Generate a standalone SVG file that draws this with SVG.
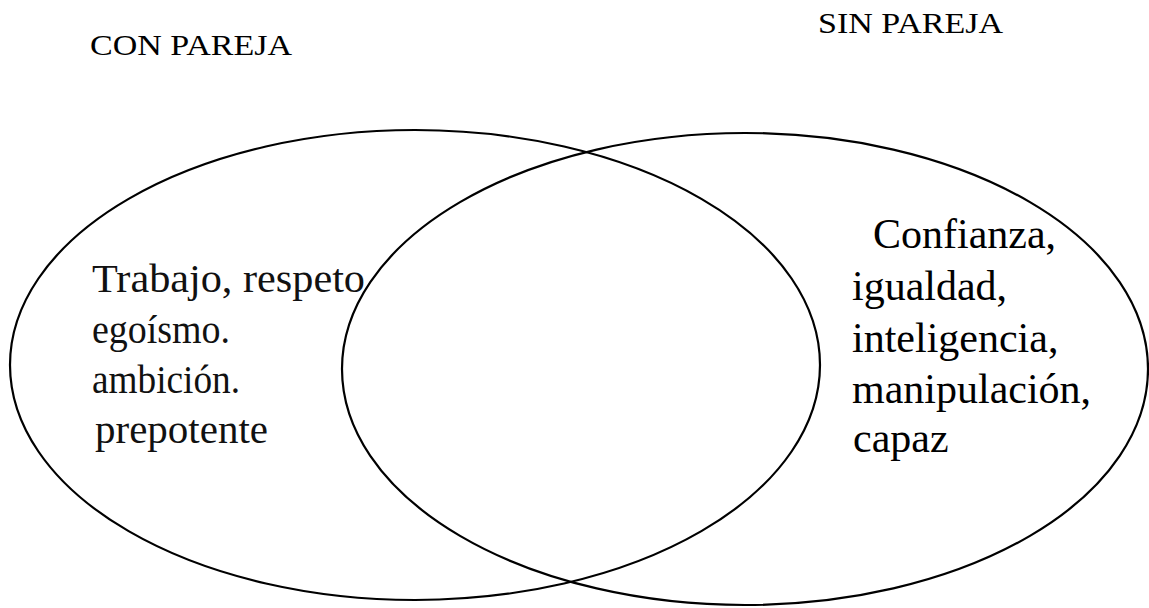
<svg xmlns="http://www.w3.org/2000/svg" width="1149" height="608" viewBox="0 0 1149 608">
<style>
.ell{fill:none;stroke:#000;stroke-width:2.2}
.t{font-family:"Liberation Serif","Times New Roman",serif;fill:#000}
.hdr{font-size:30px}
.lt{font-size:40px;fill:#111}
.rt{font-size:42px}
</style>
<rect width="1149" height="608" fill="#fff"/>
<g id="connectors"></g>
<g id="con-pareja">
<ellipse class="ell" cx="415" cy="365" rx="405" ry="235"/>
<text class="t hdr" x="90" y="55" textLength="202" lengthAdjust="spacingAndGlyphs">CON PAREJA</text>
<text class="t lt" x="92" y="292" textLength="273" lengthAdjust="spacingAndGlyphs">Trabajo, respeto</text>
<text class="t lt" x="92" y="343" textLength="138" lengthAdjust="spacingAndGlyphs">egoísmo.</text>
<text class="t lt" x="92" y="393" textLength="148" lengthAdjust="spacingAndGlyphs">ambición.</text>
<text class="t lt" x="95" y="443" textLength="173" lengthAdjust="spacingAndGlyphs">prepotente</text>
</g>
<g id="sin-pareja">
<ellipse class="ell" cx="745" cy="369" rx="403" ry="236"/>
<text class="t hdr" x="818" y="33" textLength="185" lengthAdjust="spacingAndGlyphs">SIN PAREJA</text>
<text class="t rt" x="873" y="248">Confianza,</text>
<text class="t rt" x="852" y="300">igualdad,</text>
<text class="t rt" x="852" y="352">inteligencia,</text>
<text class="t rt" x="852" y="403">manipulación,</text>
<text class="t rt" x="853" y="452">capaz</text>
</g>
</svg>
